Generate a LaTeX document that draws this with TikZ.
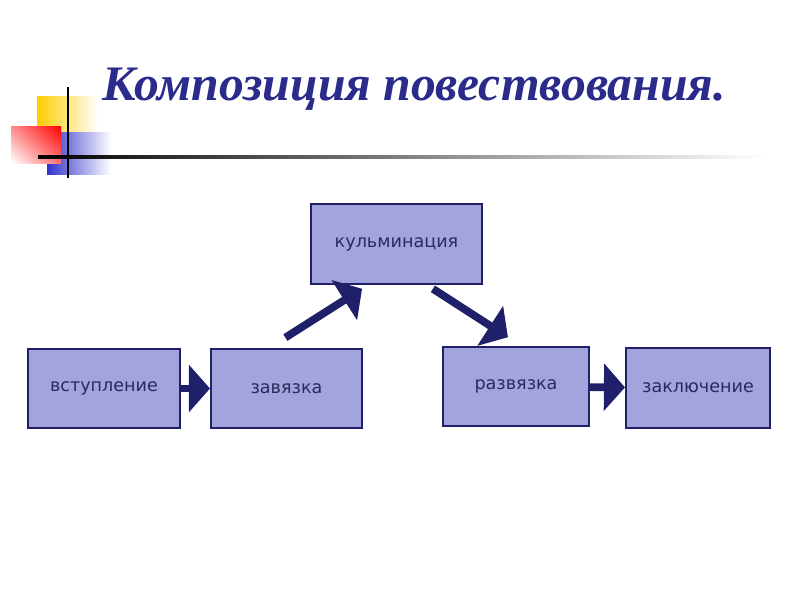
\documentclass[tikz,border=0pt]{standalone}
\usepackage{fontspec}
\setmainfont{DejaVu Sans}
\newfontfamily\titlefont{Liberation Serif}
\usetikzlibrary{arrows.meta,shadings}
\definecolor{boxfill}{HTML}{A3A3DE}
\definecolor{boxline}{HTML}{20206A}
\definecolor{boxtext}{HTML}{2A2A5C}
\definecolor{titleblue}{HTML}{2B2B8C}
\definecolor{decoyellow}{HTML}{FFCC00}
\definecolor{decoblue}{HTML}{3333CC}
\tikzset{
  stage/.style={draw=boxline, line width=1.4pt, fill=boxfill, text=boxtext,
    font=\fontsize{12.5}{14}\selectfont, inner sep=0pt, minimum height=1.975cm},
  bigarrow/.style={draw=boxline, line width=5.5pt,
    -{Triangle[length=15pt,width=33pt]}}
}

\begin{document}
\begin{tikzpicture}[x=0.025cm, y=-0.025cm]
			%%%%% START %%%%%
			\useasboundingbox[fill=white] (0, 0) rectangle (800, 600);
			
			% corner decoration
			\shade[left color=decoyellow, middle color=decoyellow!85, right color=white] (37, 96) rectangle (98, 132);
			\shade[left color=decoblue, middle color=decoblue!75, right color=white] (47, 132) rectangle (111, 174);
			\shade[upper right=red, upper left=red!45, lower right=red!55, lower left=white] (11, 126) rectangle (61, 163);
			\shade[left color=black, middle color=black!70, right color=white] (38, 155.5) rectangle (765, 158.5);
			\draw[line width=1.5pt] (68, 87) -- (68, 178);
			
			\node[anchor=base west, text=titleblue, font=\titlefont\bfseries\itshape\fontsize{35.3}{38}\selectfont] (title) at (98, 100) {Композиция повествования.};
			
			% stages
			\node[stage, minimum width=3.8cm] (vst) at (104, 388.5) {вступление};
			\node[stage, minimum width=3.775cm] (zav) at (286.5, 388.5) {завязка};
			\node[stage, minimum width=4.275cm, minimum height=2cm] (kul) at (396.5, 244) {кульминация};
			\node[stage, minimum width=3.65cm] (razv) at (516, 386.5) {развязка};
			\node[stage, minimum width=3.6cm, minimum height=2cm] (zakl) at (698, 388) {заключение};
			
			\draw[bigarrow] (vst) -- (zav);
			\draw[bigarrow, shorten <=13.8pt, shorten >=5pt] ([xshift=-17.5*0.025cm]zav.north) -- ([xshift=-28.5*0.025cm]kul.south);
			\draw[bigarrow, shorten <=5pt, shorten >=11.5pt] ([xshift=30.5*0.025cm]kul.south) -- ([xshift=5.5*0.025cm]razv.north);
			\draw[bigarrow] (razv) -- (zakl);
			
			%%%%% END %%%%%
		\end{tikzpicture}
\end{document}
